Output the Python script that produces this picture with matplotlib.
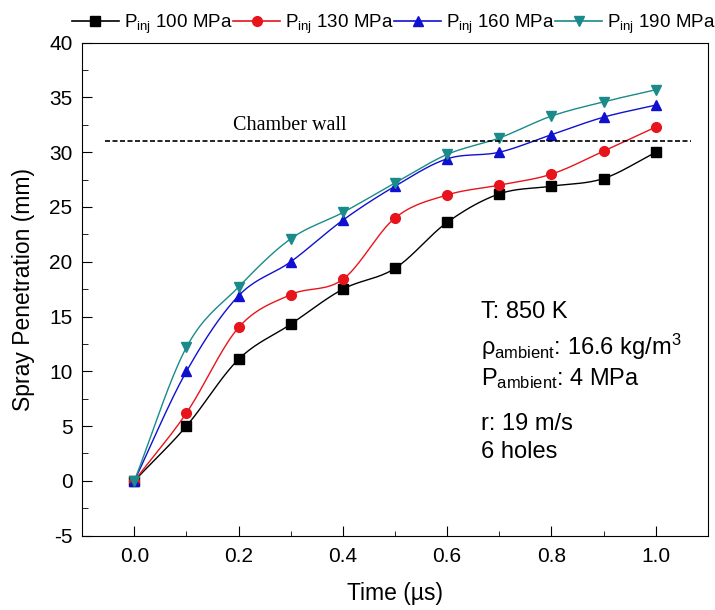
import numpy as np
import matplotlib
matplotlib.use("Agg")
import matplotlib.pyplot as plt
from matplotlib.ticker import MultipleLocator

plt.rcParams['font.family'] = ['Liberation Sans', 'DejaVu Sans']
plt.rcParams['mathtext.fontset'] = 'custom'
plt.rcParams['mathtext.rm'] = 'Liberation Sans'
plt.rcParams['mathtext.it'] = 'Liberation Sans'
plt.rcParams['axes.unicode_minus'] = False

# datos
tiempo = [0.0, 0.1, 0.2, 0.3, 0.4, 0.5, 0.6, 0.7, 0.8, 0.9, 1.0]
p100 = [0.0, 5.0, 11.1, 14.3, 17.5, 19.4, 23.6, 26.2, 26.9, 27.6, 30.0]
p130 = [0.0, 6.2, 14.0, 17.0, 18.4, 24.0, 26.1, 27.0, 28.0, 30.1, 32.3]
p160 = [0.0, 10.0, 16.9, 20.0, 23.8, 26.9, 29.4, 30.0, 31.6, 33.2, 34.3]
p190 = [0.0, 12.2, 17.7, 22.1, 24.5, 27.2, 29.8, 31.3, 33.3, 34.6, 35.7]
etiquetas = [r"P$_{\rm inj}$ 100 MPa", r"P$_{\rm inj}$ 130 MPa",
             r"P$_{\rm inj}$ 160 MPa", r"P$_{\rm inj}$ 190 MPa"]
pared = 31.0


def suavizar(x, y, n=20):
    # curva Catmull-Rom solo para dibujar la linea
    x = np.asarray(x, float)
    y = np.asarray(y, float)
    px = np.concatenate([[2 * x[0] - x[1]], x, [2 * x[-1] - x[-2]]])
    py = np.concatenate([[2 * y[0] - y[1]], y, [2 * y[-1] - y[-2]]])
    xs, ys = [], []
    t = np.linspace(0, 1, n, endpoint=False)
    for i in range(1, len(px) - 2):
        for arr, out in ((px, xs), (py, ys)):
            p0, p1, p2, p3 = arr[i - 1], arr[i], arr[i + 1], arr[i + 2]
            out.extend(0.5 * (2 * p1 + (-p0 + p2) * t
                              + (2 * p0 - 5 * p1 + 4 * p2 - p3) * t ** 2
                              + (-p0 + 3 * p1 - 3 * p2 + p3) * t ** 3))
    xs.append(x[-1])
    ys.append(y[-1])
    return xs, ys


fig = plt.figure(figsize=(7.15, 6.1), dpi=100)
ax = fig.add_axes([0.115, 0.122, 0.875, 0.808])

series = [p100, p130, p160, p190]
colores = ['#000000', '#e8141c', '#1010d0', '#1a8a8a']
marcadores = ['s', 'o', '^', 'v']
for datos, color, marca, etiqueta in zip(series, colores, marcadores, etiquetas):
    xs, ys = suavizar(tiempo, datos)
    ax.plot(xs, ys, color=color, lw=1.0)
    ax.plot(tiempo, datos, linestyle='none', marker=marca, color=color, ms=7)
    ax.plot([], [], color=color, lw=1.2, marker=marca, ms=7, label=etiqueta)

ax.plot([-0.057, 1.067], [pared, pared], color='black', lw=1.2, linestyle=(0, (3, 1.5)))
ax.text(0.19, pared + 1.0, 'Chamber wall', family='Liberation Serif', fontsize=14.5)

ax.set_xlim(-0.1, 1.1)
ax.set_ylim(-5, 40)
ax.xaxis.set_minor_locator(MultipleLocator(0.1))
ax.yaxis.set_major_locator(MultipleLocator(5))
ax.yaxis.set_minor_locator(MultipleLocator(2.5))
ax.tick_params(axis='both', which='both', direction='in', top=False, right=False, labelsize=15)
ax.tick_params(which='major', length=7)
ax.tick_params(axis='y', which='both', pad=7)
ax.tick_params(axis='x', which='both', pad=8)
ax.tick_params(axis='y', which='minor', length=4.5)
ax.tick_params(axis='x', which='minor', length=3.5)
ax.set_xticks(np.arange(0, 1.01, 0.2))
ax.set_xticklabels(['0.0', '0.2', '0.4', '0.6', '0.8', '1.0'])

ax.set_xlabel('Time (µs)', fontsize=16.5, labelpad=12)
ax.set_ylabel('Spray Penetration (mm)', fontsize=16.5, labelpad=10)

textos = ['T: 850 K', r'$\rho_{\rm ambient}$: 16.6 kg/m$^3$',
          r'P$_{\rm ambient}$: 4 MPa', 'r: 19 m/s', '6 holes']
ys_txt = [15.4, 12.2, 9.3, 5.2, 2.6]
for t, yy in zip(textos, ys_txt):
    ax.text(0.665, yy, t, fontsize=17, va='center')

fig.legend(loc='upper left', bbox_to_anchor=(0.085, 0.998), ncol=4, frameon=False,
           fontsize=13.5, handlelength=2.5, handletextpad=0.25, columnspacing=0.05,
           borderaxespad=0.2)

fig.savefig('out.png', dpi=100)
